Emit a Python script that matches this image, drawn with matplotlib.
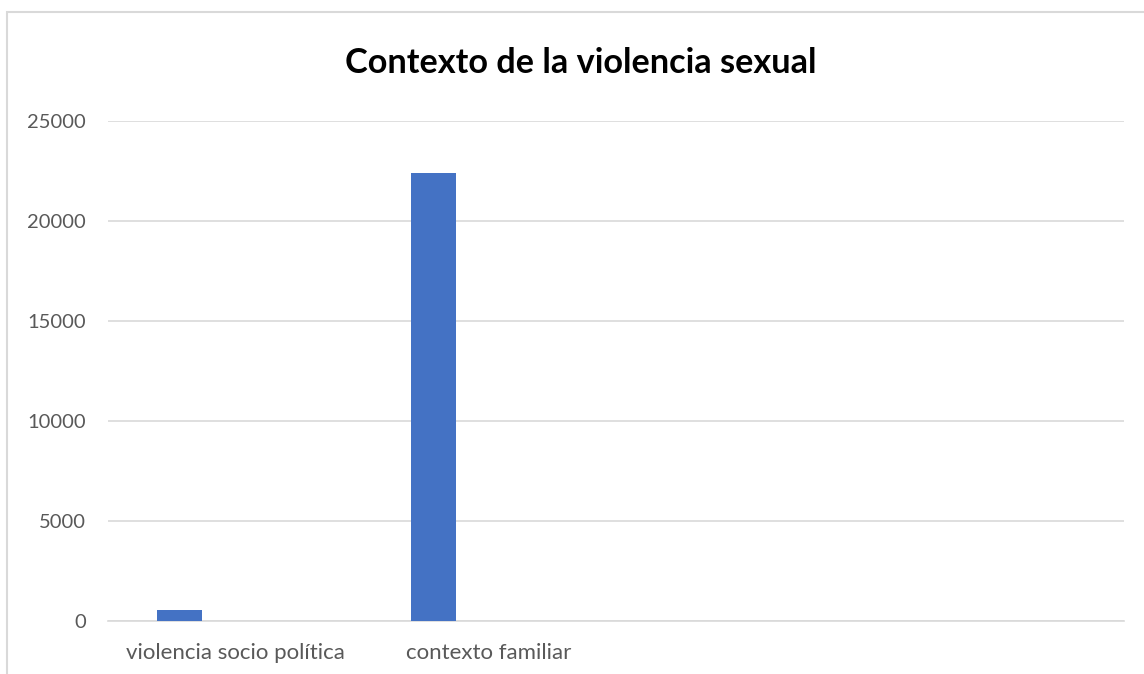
import matplotlib
matplotlib.use("Agg")
import matplotlib.pyplot as plt
from matplotlib.patches import Rectangle

categories = ["violencia socio política", "contexto familiar", "", ""]
values = [530, 22400]
yticks = [0, 5000, 10000, 15000, 20000, 25000]
title = "Contexto de la violencia sexual"

W, H = 1144, 674
plt.rcParams['font.family'] = ['Lato', 'DejaVu Sans']

fig = plt.figure(figsize=(W / 100, H / 100), dpi=100)
ax = fig.add_axes([108 / W, (H - 621) / H, (1124 - 108) / W, 500 / H])

# outer chart frame (cropped at right and bottom in the original)
fig.patches.append(Rectangle((7 / W, -0.1), 1.2, (H - 12) / H + 0.1,
                             transform=fig.transFigure, fill=False,
                             edgecolor="#d9d9d9", linewidth=1.5))

# bars sit left of the category centre, like an Excel cluster
offset = -0.218
width = 0.175
x = [i + offset for i in range(len(values))]
ax.bar(x, values, width=width, color="#4472c4", zorder=3)

ax.set_xlim(-0.5, len(categories) - 0.5)
ax.set_ylim(0, 25000)
ax.set_yticks(yticks)
ax.set_yticklabels([str(t) for t in yticks])
ax.set_xticks(range(len(categories)))
ax.set_xticklabels(categories)

ax.grid(axis="y", color="#d9d9d9", linewidth=1.2, zorder=0)
for s in ["top", "right", "left"]:
    ax.spines[s].set_visible(False)
ax.spines["bottom"].set_color("#d9d9d9")
ax.spines["bottom"].set_linewidth(1.2)
ax.tick_params(axis="both", length=0, colors="#595959")
ax.tick_params(axis="y", pad=16, labelsize=14.5)
ax.tick_params(axis="x", pad=16, labelsize=16)

fig.text(581 / W, 1 - 63 / H, title, ha="center", va="center",
         fontsize=24.7, fontweight="bold", color="black")

fig.savefig("out.png", dpi=100)
